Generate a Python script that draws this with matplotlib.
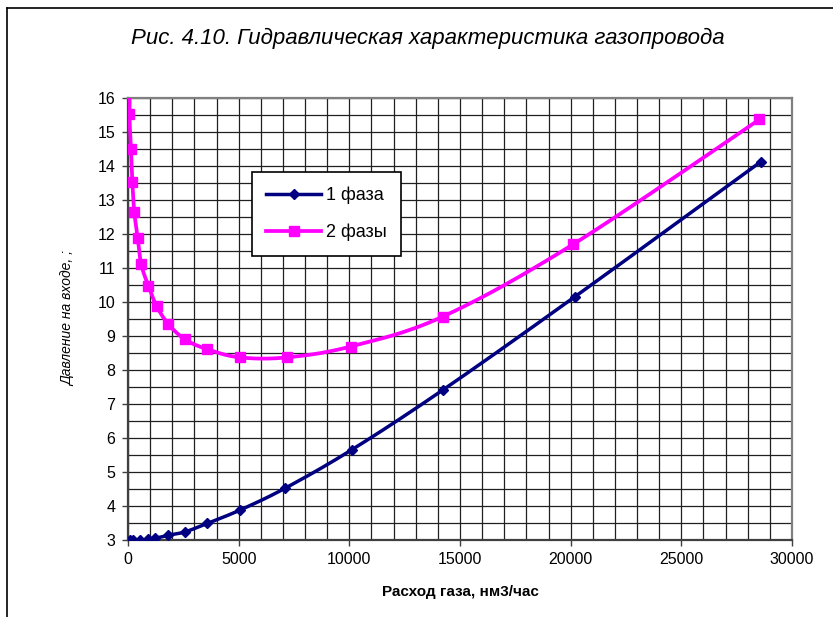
import numpy as np
import matplotlib
matplotlib.use("Agg")
import matplotlib.pyplot as plt
from matplotlib.lines import Line2D
from matplotlib.ticker import MultipleLocator

# Gas flow (nm3/h) and inlet pressure for the two regimes
flow_1 = [90, 240, 540, 920, 1220, 1820, 2580, 3590, 5060, 7090, 10100, 14220, 20200, 28600]
pressure_1 = [3.0, 3.0, 3.0, 3.02, 3.05, 3.14, 3.24, 3.49, 3.88, 4.52, 5.65, 7.41, 10.16, 14.13]

flow_2 = [85, 65, 135, 195, 285, 437, 587, 918, 1296, 1822, 2576, 3585, 5060, 7170,
          10060, 14220, 20120, 28530]
pressure_2 = [16.6, 15.53, 14.49, 13.54, 12.64, 11.89, 11.13, 10.48, 9.88, 9.35, 8.90,
              8.61, 8.37, 8.37, 8.69, 9.57, 11.70, 15.37]

series_labels = ["1 фаза", "2 фазы"]
x_ticks = [0, 5000, 10000, 15000, 20000, 25000, 30000]
y_ticks = list(range(3, 17))

W, H = 833, 617
ax_left, ax_right, ax_top, ax_bottom = 128, 792, 98, 540


def smooth(xs, ys, xr, yr, n=30):
    """Catmull-Rom curve through the points, evaluated in screen-like units."""
    sx = (ax_right - ax_left) / (xr[1] - xr[0])
    sy = (ax_bottom - ax_top) / (yr[1] - yr[0])
    P = np.column_stack([np.asarray(xs, float) * sx, np.asarray(ys, float) * sy])
    P = np.vstack([P[0], P, P[-1]])
    out = []
    t = np.linspace(0, 1, n)[:, None]
    for i in range(1, len(P) - 2):
        p0, p1, p2, p3 = P[i - 1], P[i], P[i + 1], P[i + 2]
        c1 = p1 + (p2 - p0) / 6
        c2 = p2 - (p3 - p1) / 6
        seg = ((1 - t) ** 3) * p1 + 3 * ((1 - t) ** 2) * t * c1 + 3 * (1 - t) * t ** 2 * c2 + t ** 3 * p2
        out.append(seg if i == 1 else seg[1:])
    out = np.vstack(out)
    return out[:, 0] / sx, out[:, 1] / sy


fig = plt.figure(figsize=(W / 100, H / 100), dpi=100)
fig.patch.set_facecolor("white")
ax = fig.add_axes([ax_left / W, 1 - ax_bottom / H,
                   (ax_right - ax_left) / W, (ax_bottom - ax_top) / H])

xr, yr = (0, 30000), (3, 16)
ax.set_xlim(*xr)
ax.set_ylim(*yr)

font = "Liberation Sans"
navy = "#000080"
magenta = "#FF00FF"

# grid
ax.xaxis.set_minor_locator(MultipleLocator(1000))
ax.yaxis.set_minor_locator(MultipleLocator(0.5))
ax.grid(True, which="both", color="#202020", linewidth=0.9)
ax.set_axisbelow(True)
ax.tick_params(which="minor", length=0)

sx1, sy1 = smooth(flow_1, pressure_1, xr, yr)
sx2, sy2 = smooth(flow_2, pressure_2, xr, yr)
ax.plot(sx1, sy1, color=navy, linewidth=2.5, solid_capstyle="round", zorder=3)
ax.plot(flow_1, pressure_1, linestyle="none", marker="D", markersize=5.5,
        color=navy, zorder=4)
ax.plot(sx2, sy2, color=magenta, linewidth=2.7, zorder=3)
ax.plot(flow_2, pressure_2, linestyle="none", marker="s", markersize=6.5,
        color=magenta, zorder=4)

ax.set_xticks(x_ticks)
ax.set_yticks(y_ticks)
ax.set_xticklabels([str(v) for v in x_ticks], fontfamily=font, fontsize=11.5)
ax.set_yticklabels([str(v) for v in y_ticks], fontfamily=font, fontsize=11.5)
ax.tick_params(which="major", direction="out", length=4, width=1, color="#404040", pad=5)

for side in ("top", "right"):
    ax.spines[side].set_color("#808080")
    ax.spines[side].set_linewidth(1.6)
for side in ("left", "bottom"):
    ax.spines[side].set_color("#404040")
    ax.spines[side].set_linewidth(1.6)

ax.set_xlabel("Расход газа, нм3/час", fontfamily=font, fontsize=11, fontweight="bold")
ax.xaxis.set_label_coords(0.5, -(592 - ax_bottom) / (ax_bottom - ax_top), transform=ax.transAxes)
ax.xaxis.label.set_va("center")
ax.set_ylabel("Давление на входе, ;", fontfamily=font, fontsize=10, fontstyle="italic")
ax.yaxis.set_label_coords(-(ax_left - 68) / (ax_right - ax_left), 0.5)
ax.yaxis.label.set_va("center")

fig.text(428 / W, 1 - 38 / H, "Рис. 4.10. Гидравлическая характеристика газопровода",
         fontfamily=font, fontstyle="italic", fontsize=16, ha="center", va="center")

handles = [Line2D([], [], color=navy, linewidth=2.5, marker="D", markersize=5.5),
           Line2D([], [], color=magenta, linewidth=2.7, marker="s", markersize=6.5)]
leg = ax.legend(handles, series_labels, loc="upper left",
                bbox_to_anchor=((252 - ax_left) / (ax_right - ax_left),
                                (ax_bottom - 172) / (ax_bottom - ax_top)),
                prop={"family": font, "size": 13}, frameon=True, fancybox=False,
                edgecolor="black", framealpha=1, borderpad=0.8, labelspacing=1.1,
                handlelength=3.0, handletextpad=0.3, borderaxespad=0, markerfirst=True)
leg.get_frame().set_linewidth(1.2)
leg.set_zorder(10)

# outer frame of the chart sheet
fig.add_artist(Line2D([7 / W, 7 / W], [0, 1 - 7.5 / H], color="black", linewidth=1.2,
                      transform=fig.transFigure))
fig.add_artist(Line2D([7 / W, 1], [1 - 7.5 / H, 1 - 7.5 / H], color="black", linewidth=1.2,
                      transform=fig.transFigure))

fig.savefig("out.png", dpi=100)
